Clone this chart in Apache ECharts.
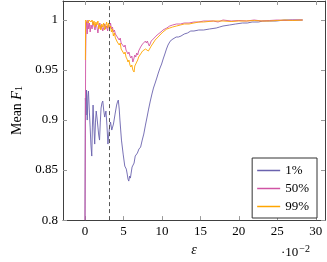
<!DOCTYPE html>
<html>
<head>
<meta charset="utf-8">
<script src="https://cdn.jsdelivr.net/npm/echarts@6/dist/echarts.min.js"></script>
<style>html,body{margin:0;padding:0;background:#fff}#c{width:327px;height:262px}</style>
</head>
<body>
<div id="c"></div>
<script>
// epsilon values (x 10^-2) and mean F1 values
const eps1 = [0,0.05,0.14,0.2,0.29,0.38,0.45,0.57,0.67,0.77,0.88,0.96,1.05,1.15,1.26,1.36,1.46,1.58,1.68,1.78,1.89,1.99,2.09,2.2,2.31,2.43,2.56,2.72,2.85,2.98,3.09,3.19,3.32,3.48,3.59,3.7,3.91,4.11,4.22,4.33,4.45,4.54,4.74,4.96,5.17,5.37,5.49,5.59,5.69,5.8,5.9,6.0,6.12,6.22,6.38,6.53,6.63,6.81,7.01,7.23,7.44,7.64,7.86,8.07,8.27,8.49,8.7,8.9,9.12,9.33,9.53,9.75,9.96,10.16,10.38,10.59,10.79,11.01,11.22,11.42,11.85,12.14,12.48,12.9,13.32,13.75,14.16,14.79,15.42,16.18,17.06,17.5,17.94,18.79,19.58,20.47,21.1,21.73,22.57,23.1,23.62,24.88,25.89,27.02,28.29];
const f1_1 = [0.8,0.922,0.905,0.930,0.900,0.924,0.929,0.908,0.893,0.875,0.864,0.893,0.915,0.895,0.876,0.898,0.909,0.901,0.893,0.885,0.880,0.898,0.912,0.917,0.919,0.910,0.903,0.909,0.895,0.876,0.886,0.893,0.898,0.890,0.893,0.896,0.906,0.915,0.918,0.920,0.911,0.900,0.880,0.866,0.854,0.851,0.846,0.841,0.839,0.844,0.842,0.847,0.853,0.854,0.857,0.864,0.864,0.867,0.871,0.873,0.880,0.886,0.895,0.903,0.911,0.919,0.926,0.932,0.937,0.942,0.947,0.952,0.956,0.961,0.966,0.971,0.975,0.978,0.980,0.981,0.983,0.983,0.984,0.986,0.987,0.989,0.989,0.990,0.990,0.991,0.992,0.993,0.994,0.995,0.996,0.997,0.997,0.998,0.998,0.999,0.999,0.999,1.0,1.0,1.0];

const eps50 = [0,0.08,0.14,0.2,0.29,0.38,0.48,0.58,0.67,0.79,0.92,1.05,1.17,1.3,1.42,1.55,1.68,1.8,1.93,2.06,2.18,2.31,2.43,2.56,2.69,2.81,2.94,3.06,3.19,3.32,3.44,3.57,3.69,3.82,3.95,4.07,4.2,4.33,4.45,4.58,4.7,4.83,4.96,5.08,5.21,5.33,5.46,5.59,5.71,5.84,5.96,6.09,6.22,6.34,6.47,6.6,6.72,6.85,6.97,7.1,7.23,7.35,7.48,7.6,7.73,7.86,7.98,8.11,8.24,8.36,8.49,8.61,8.74,8.87,9.12,9.37,9.62,9.87,10.13,10.38,10.63,11.01,11.39,11.89,12.4,12.9,13.53,14.16,14.79,15.42,16.68,17.3,17.94,19,20,21,22,23,24,25,26,27,28.3];
const f1_50 = [0.8,0.961,0.991,0.9985,0.986,1.0,0.991,0.997,0.988,0.995,0.991,0.998,0.994,0.990,0.996,0.993,0.987,0.994,0.997,0.991,0.994,0.989,0.992,0.996,0.991,0.994,0.989,0.995,0.992,0.997,0.991,0.993,0.988,0.990,0.986,0.987,0.983,0.984,0.980,0.982,0.977,0.976,0.978,0.973,0.975,0.970,0.969,0.966,0.968,0.964,0.962,0.964,0.958,0.961,0.965,0.963,0.967,0.965,0.969,0.968,0.973,0.972,0.976,0.977,0.975,0.979,0.977,0.979,0.976,0.974,0.975,0.979,0.978,0.981,0.983,0.985,0.986,0.988,0.990,0.991,0.992,0.994,0.995,0.996,0.996,0.997,0.997,0.998,0.998,0.999,0.999,0.998,1.0,0.999,0.9995,0.999,1.0,0.999,0.9995,1.0,0.9995,1.0,1.0];

const eps99 = [0.05,0.08,0.16,0.29,0.42,0.54,0.67,0.79,0.92,1.05,1.17,1.3,1.42,1.55,1.68,1.8,1.93,2.06,2.18,2.31,2.43,2.56,2.69,2.81,2.94,3.06,3.19,3.32,3.44,3.57,3.69,3.82,3.95,4.07,4.2,4.33,4.45,4.58,4.7,4.83,4.96,5.08,5.21,5.33,5.46,5.59,5.71,5.84,5.96,6.09,6.22,6.38,6.47,6.6,6.72,6.85,6.97,7.1,7.23,7.35,7.48,7.6,7.73,7.86,7.98,8.11,8.24,8.36,8.49,8.61,8.74,8.87,9.12,9.37,9.62,9.87,10.13,10.38,10.63,11.01,11.39,11.89,12.4,12.9,13.53,14.16,14.79,15.42,16.68,17.94,19,20,21,22,23,24,25,26,27,28.3];
const f1_99 = [0.96,1.0,1.0,1.0,0.997,1.0,1.0,0.998,1.0,0.995,0.999,0.993,0.998,0.995,0.999,0.991,0.995,0.990,0.996,0.993,0.997,0.990,0.994,0.998,0.992,0.997,0.991,0.994,0.988,0.991,0.984,0.987,0.982,0.983,0.978,0.979,0.975,0.977,0.971,0.970,0.972,0.966,0.968,0.963,0.961,0.958,0.960,0.955,0.953,0.955,0.950,0.948,0.954,0.956,0.958,0.960,0.963,0.964,0.966,0.967,0.969,0.970,0.969,0.971,0.970,0.972,0.969,0.968,0.970,0.974,0.975,0.977,0.980,0.982,0.984,0.986,0.988,0.989,0.991,0.992,0.993,0.994,0.995,0.996,0.996,0.997,0.998,0.998,0.999,0.999,0.9985,0.999,0.999,0.9995,0.999,0.999,0.9995,1.0,0.9995,1.0];

const seriesNames = ['1%','50%','99%'];
const xTicks = [0,5,10,15,20,25,30];
const yTicks = [0.8,0.85,0.9,0.95,1];
const dashedEps = 3.1;

const zip = (a,b) => a.map((x,i)=>[x,b[i]]);
const colors = ['#6a62ae','#d054a4','#ffa500'];
const font = 'Liberation Serif';
const axisCol = '#404040';

const chart = echarts.init(document.getElementById('c'), null, {renderer:'canvas'});
const xBase = {type:'value', min:-2.86, max:31.2,
  splitLine:{show:false},
  axisLine:{show:true,onZero:false,lineStyle:{color:axisCol,width:1}},
  axisTick:{show:true,inside:true,length:4,customValues:xTicks,lineStyle:{color:'#999'}},
};
const yBase = {type:'value', min:0.8, max:1.019,
  splitLine:{show:false},
  axisLine:{show:true,onZero:false,lineStyle:{color:axisCol,width:1}},
  axisTick:{show:true,inside:true,length:4,customValues:yTicks,lineStyle:{color:'#999'}},
};
chart.setOption({
  animation:false,
  backgroundColor:'#fff',
  grid:{left:55,right:2,top:1,bottom:37,containLabel:false},
  xAxis:[
    Object.assign({}, xBase, {position:'bottom',
      axisLabel:{customValues:xTicks,color:'#000',fontFamily:font,fontSize:13,margin:5},
      name:'ε', nameLocation:'middle', nameGap:18,
      nameTextStyle:{fontFamily:font,fontStyle:'italic',fontSize:14,color:'#000'}}),
    Object.assign({}, xBase, {position:'top',axisLabel:{show:false}})
  ],
  yAxis:[
    Object.assign({}, yBase, {position:'left',
      axisLabel:{customValues:yTicks,color:'#000',fontFamily:font,fontSize:13,margin:5,
        formatter:v=>String(+v.toFixed(2))},
      name:'{a|Mean }{i|F}{s|1}', nameLocation:'middle', nameRotate:90, nameGap:39,
      nameTextStyle:{color:'#000',rich:{
        a:{fontFamily:font,fontSize:14,color:'#000'},
        i:{fontFamily:font,fontSize:14,fontStyle:'italic',color:'#000'},
        s:{fontFamily:font,fontSize:10,color:'#000',verticalAlign:'bottom',lineHeight:10,padding:[6,0,0,0]}
      }}}),
    Object.assign({}, yBase, {position:'right',axisLabel:{show:false}})
  ],
  legend:{
    orient:'vertical', right:10, top:158,
    backgroundColor:'#fff', borderColor:'#333', borderWidth:1, borderRadius:0,
    padding:[6,8,5,5], itemGap:5, itemWidth:23, itemHeight:1.5,
    icon:'rect',
    textStyle:{fontFamily:font,fontSize:13,color:'#000',width:24,align:'right'},
    data:seriesNames
  },
  series:[
    {name:seriesNames[0], type:'line', data:zip(eps1,f1_1), showSymbol:false, symbol:'none',
     lineStyle:{width:0.9,color:colors[0]}, itemStyle:{color:colors[0]},
     markLine:{silent:true,symbol:'none',label:{show:false},
       lineStyle:{type:[4,3],color:'#444',width:0.9},data:[{xAxis:dashedEps}]}},
    {name:seriesNames[1], type:'line', data:zip(eps50,f1_50), showSymbol:false, symbol:'none',
     lineStyle:{width:0.9,color:colors[1]}, itemStyle:{color:colors[1]}},
    {name:seriesNames[2], type:'line', data:zip(eps99,f1_99), showSymbol:false, symbol:'none',
     lineStyle:{width:0.9,color:colors[2]}, itemStyle:{color:colors[2]}}
  ],
  graphic:[
    {type:'text', left:281, top:244, style:{
      text:'{a|·10}{b|−2}', rich:{
        a:{fontFamily:font,fontSize:13,color:'#000'},
        b:{fontFamily:font,fontSize:10,color:'#000',verticalAlign:'top',padding:[0,0,8,1]}
      }}}
  ]
});
</script>
</body>
</html>
